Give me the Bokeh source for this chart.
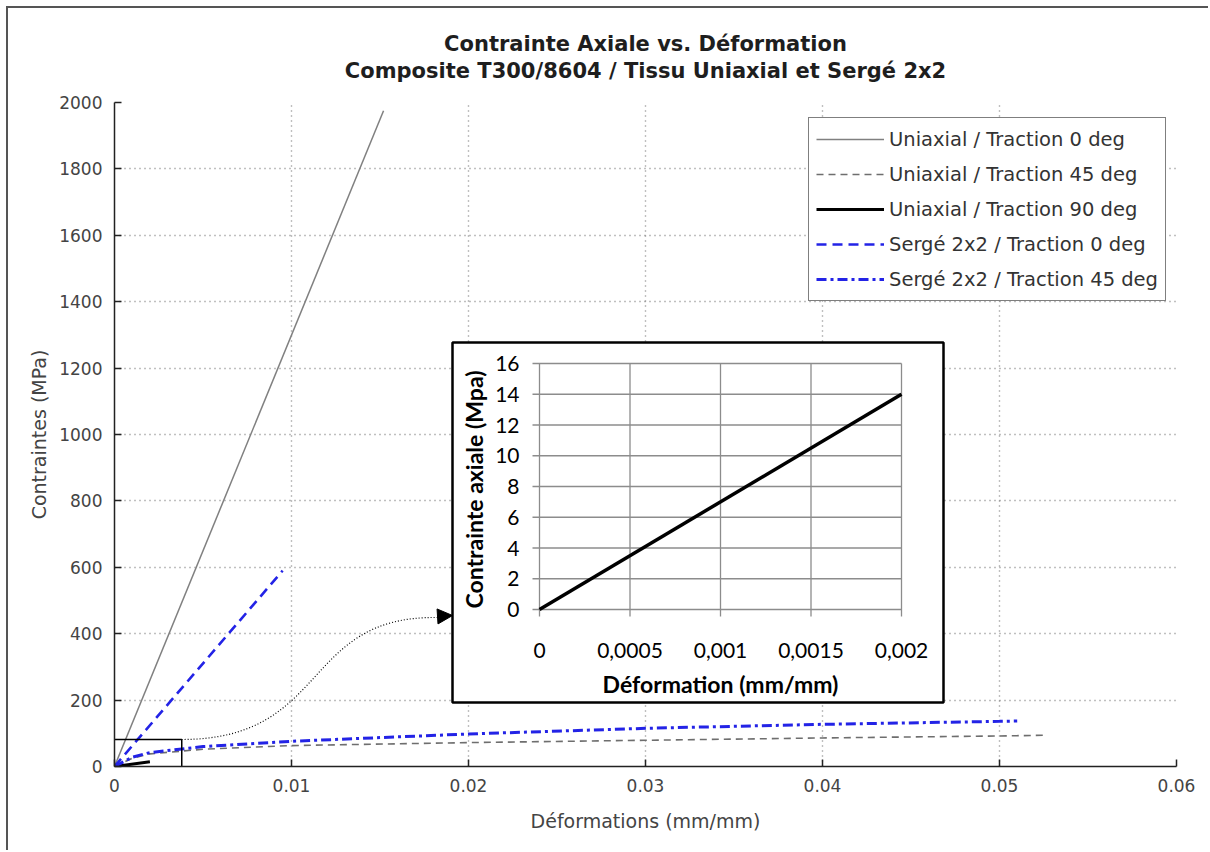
import numpy as np
from bokeh.plotting import figure
from bokeh.models import (Range1d, FixedTicker, Title, Legend, LegendItem, Arrow,
                          NormalHead)
from bokeh.core.properties import value
from bokeh.embed import file_html
from bokeh.resources import INLINE

# ---------------- data ----------------
uni0_x = [0.0, 0.0152]
uni0_y = [0.0, 1975.0]

uni45_x = [0.0, 0.001, 0.002, 0.005, 0.01, 0.02, 0.03, 0.04, 0.05, 0.0525]
uni45_y = [0.0, 25.0, 38.0, 52.0, 63.0, 72.0, 79.0, 86.0, 92.0, 94.0]

uni90_x = [0.0, 0.002]
uni90_y = [0.0, 14.0]

serge0_x = [0.0, 0.0095]
serge0_y = [0.0, 590.0]

serge45_x = [0.0, 0.001, 0.002, 0.005, 0.01, 0.02, 0.03, 0.04, 0.05, 0.051]
serge45_y = [0.0, 28.0, 42.0, 60.0, 76.0, 98.0, 115.0, 127.0, 136.0, 137.0]

labels = ["Uniaxial / Traction 0 deg", "Uniaxial / Traction 45 deg",
          "Uniaxial / Traction 90 deg", "Sergé 2x2 / Traction 0 deg",
          "Sergé 2x2 / Traction 45 deg"]

title_lines = ["Contrainte Axiale vs. Déformation",
               "Composite T300/8604 / Tissu Uniaxial et Sergé 2x2"]

x_ticks = [0.0, 0.01, 0.02, 0.03, 0.04, 0.05, 0.06]
x_tick_labels = ["0", "0.01", "0.02", "0.03", "0.04", "0.05", "0.06"]
y_ticks = list(range(0, 2001, 200))

inset_x_ticks = [0.0, 0.0005, 0.001, 0.0015, 0.002]
inset_x_labels = ["0", "0,0005", "0,001", "0,0015", "0,002"]
inset_y_ticks = [0, 2, 4, 6, 8, 10, 12, 14, 16]

zoom_box = dict(x0=-0.0001, x1=0.0038, y0=-5.0, y1=81.0)

# ---------------- layout (page pixels) ----------------
OFF = 8                      # margin + border of the page frame
W, H = 1210 - OFF, 852 - OFF
FL, FR, FT, FB = 114, 1176, 102, 766   # main frame in page px
XMAX, YMAX = 0.06, 2000.0

# inset plot area in page px
IL, IR, IT, IB = 539, 901, 363, 609
IXMAX, IYMAX = 0.002, 16.0
ixs = (IR - IL) / IXMAX
iys = (IB - IT) / IYMAX

def mx(px):
    return (px - FL) / (FR - FL) * XMAX

def my(py):
    return (FB - py) / (FB - FT) * YMAX

def ix(px):
    return (px - IL) / ixs

def iy(py):
    return (IB - py) / iys

FONT = "DejaVu Sans"

p = figure(width=W, height=H, output_backend="svg", toolbar_location=None,
           x_range=Range1d(0, XMAX), y_range=Range1d(0, YMAX),
           min_border_left=FL - OFF, min_border_right=W - (FR - OFF),
           min_border_top=FT - OFF, min_border_bottom=H - (FB - OFF),
           background_fill_color="white", border_fill_color="white",
           outline_line_color=None)
p.styles = {"margin-left": "6px", "margin-top": "6px",
            "border-top": "2px solid #555", "border-left": "2px solid #555"}

# title: first line is the plot's own (outermost) title; the second line sits
# below it, separated from the frame by a thin spacer panel
p.title.text = title_lines[0]
p.title.align = "center"
p.title.text_font = FONT
p.title.text_font_size = "21px"
p.title.text_font_style = "bold"
p.title.text_color = "#1e1e1e"
p.title.text_line_height = 1.0
p.title.standoff = 0
spacer = Title(text=" ", text_font_size="1px", standoff=16)
t2 = Title(text=title_lines[1], align="center", text_font=FONT, text_font_size="21px",
           text_font_style="bold", text_color="#1e1e1e", text_line_height=1.0,
           standoff=2)
p.add_layout(spacer, "above")
p.add_layout(t2, "above")

# axes
for ax in (p.xaxis[0], p.yaxis[0]):
    ax.axis_line_color = "#222222"
    ax.axis_line_width = 1.5
    ax.major_tick_line_color = "#222222"
    ax.major_tick_line_width = 1.5
    ax.major_tick_in = 7
    ax.major_tick_out = 0
    ax.minor_tick_line_color = None
    ax.major_label_text_font = FONT
    ax.major_label_text_font_size = "17px"
    ax.major_label_text_color = "#444444"
    ax.axis_label_text_font = FONT
    ax.axis_label_text_font_size = "19px"
    ax.axis_label_text_font_style = "normal"
    ax.axis_label_text_color = "#444444"

p.xaxis[0].ticker = FixedTicker(ticks=x_ticks)
p.xaxis[0].major_label_overrides = {t_: l for t_, l in zip(x_ticks, x_tick_labels)}
p.xaxis[0].major_label_standoff = 12
p.xaxis[0].axis_label = "Déformations (mm/mm)"
p.xaxis[0].axis_label_standoff = 15
p.yaxis[0].ticker = FixedTicker(ticks=y_ticks)
p.yaxis[0].major_label_standoff = 12
p.yaxis[0].axis_label = "Contraintes (MPa)"
p.yaxis[0].axis_label_standoff = 6

for g in (p.xgrid[0], p.ygrid[0]):
    g.grid_line_color = "#808080"
    g.grid_line_dash = "1 4"
    g.grid_line_width = 1.4

BLUE = "#2323e6"

# main series
r0 = p.line(uni0_x, uni0_y, line_color="#808080", line_width=1.5)
r45 = p.line(uni45_x, uni45_y, line_color="#6e6e6e", line_width=1.6, line_dash="7 5")
r90 = p.line(uni90_x, uni90_y, line_color="black", line_width=3)
s0 = p.line(serge0_x, serge0_y, line_color=BLUE, line_width=2.6, line_dash="10 6")
s45 = p.line(serge45_x, serge45_y, line_color=BLUE, line_width=3, line_dash="10 4 3 4")

# zoom rectangle near the origin
p.quad(left=zoom_box["x0"], right=zoom_box["x1"], bottom=zoom_box["y0"], top=zoom_box["y1"],
       fill_color=None, line_color="black", line_width=1.5)

# dotted connector curve
p.bezier(x0=mx(181), y0=my(739), x1=mx(437), y1=my(617),
         cx0=mx(330), cy0=my(739), cx1=mx(300), cy1=my(615),
         line_color="black", line_width=1.2, line_dash="1 2")

# ---------------- inset ----------------
p.extra_x_ranges = {"ix": Range1d(ix(FL), ix(FR))}
p.extra_y_ranges = {"iy": Range1d(iy(FB), iy(FT))}
INS = dict(x_range_name="ix", y_range_name="iy")

p.quad(left=ix(452), right=ix(943), bottom=iy(702), top=iy(342),
       fill_color="white", line_color="black", line_width=2.5, **INS)

# inset grid
p.segment(x0=inset_x_ticks, y0=[iy(IB + 7)] * len(inset_x_ticks),
          x1=inset_x_ticks, y1=[inset_y_ticks[-1]] * len(inset_x_ticks),
          line_color="#8c8c8c", line_width=1.3, **INS)
p.segment(x0=[ix(IL - 7)] * len(inset_y_ticks), y0=inset_y_ticks,
          x1=[inset_x_ticks[-1]] * len(inset_y_ticks), y1=inset_y_ticks,
          line_color="#8c8c8c", line_width=1.3, **INS)

# inset line
p.line(uni90_x, uni90_y, line_color="black", line_width=3.5, **INS)

# inset tick labels
p.text(x=[ix(IL - 20)] * len(inset_y_ticks), y=inset_y_ticks,
       text=[str(v) for v in inset_y_ticks], text_align="right", text_baseline="middle",
       text_font=value("Lato"), text_font_size="21px", text_color="black", **INS)
p.text(x=inset_x_ticks, y=[iy(650)] * len(inset_x_ticks), text=inset_x_labels,
       text_align="center", text_baseline="middle",
       text_font=value("Lato"), text_font_size="21px", text_color="black", **INS)

# inset axis titles
p.text(x=[ix(720)], y=[iy(683)], text=["Déformation (mm/mm)"],
       text_align="center", text_baseline="middle", text_font=value("Lato"),
       text_font_size="23px", text_font_style="bold", text_color="black", **INS)
p.text(x=[ix(473)], y=[iy(489)], text=["Contrainte axiale (Mpa)"], angle=np.pi / 2,
       text_align="center", text_baseline="middle", text_font=value("Lato"),
       text_font_size="23px", text_font_style="bold", text_color="black", **INS)

# arrow head
p.add_layout(Arrow(x_start=mx(436), y_start=my(616), x_end=mx(452), y_end=my(615),
                   line_alpha=0,
                   end=NormalHead(size=15, fill_color="black", line_color="black")))

# ---------------- legend ----------------
legend = Legend(items=[LegendItem(label=labels[0], renderers=[r0]),
                       LegendItem(label=labels[1], renderers=[r45]),
                       LegendItem(label=labels[2], renderers=[r90]),
                       LegendItem(label=labels[3], renderers=[s0]),
                       LegendItem(label=labels[4], renderers=[s45])],
                location=(808 - FL, FB - 301),
                label_text_font=FONT, label_text_font_size="19.5px",
                label_text_color="#333333",
                glyph_width=68, glyph_height=28, label_height=28,
                spacing=7, padding=7, label_standoff=5, margin=0,
                border_line_color="black", border_line_width=1.5,
                background_fill_color="white", background_fill_alpha=1)
p.add_layout(legend)

open("out.html", "w").write(file_html(p, INLINE))
